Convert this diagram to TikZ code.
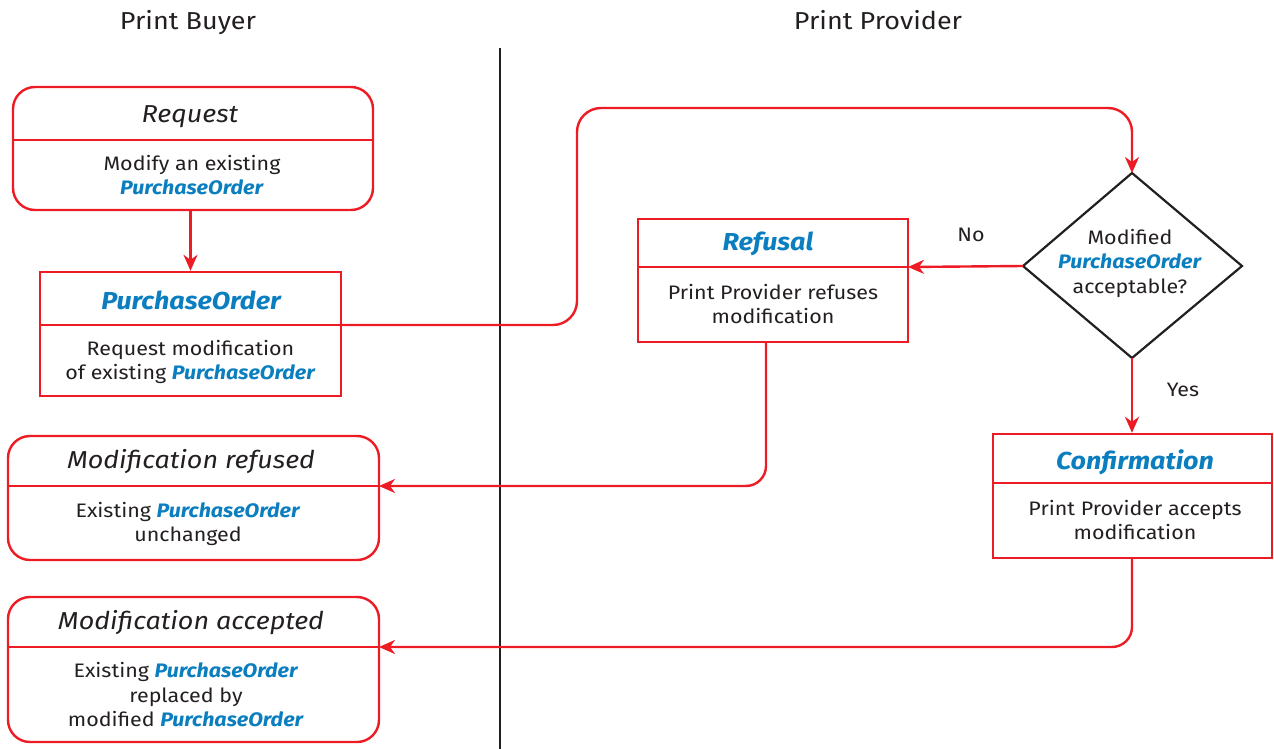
\documentclass[tikz,border=0pt]{standalone}
\usepackage{fontspec}
\setmainfont{Fira Sans}[FakeStretch=1.1]
\usetikzlibrary{arrows.meta}
\definecolor{pred}{HTML}{ED1C24}
\definecolor{pblue}{HTML}{0A7EBE}
\definecolor{pink}{HTML}{231F20}
\newcommand{\po}{\textcolor{pblue}{\textbf{\textit{PurchaseOrder}}}}
\tikzset{
  frame/.style={draw=pred, line width=2.4pt, inner sep=0pt},
  rframe/.style={frame, rounded corners=22pt},
  hdr/.style={font=\fontsize{24.5}{28}\selectfont\itshape, text=pink, inner sep=0pt},
  bhdr/.style={font=\fontsize{24.5}{28}\selectfont\bfseries\itshape, text=pblue, inner sep=0pt},
  body/.style={font=\fontsize{19.5}{24.5}\selectfont, text=pink, align=center, inner sep=0pt},
  lab/.style={font=\fontsize{19.5}{24}\selectfont, text=pink, inner sep=0pt},
  title/.style={font=\fontsize{24.5}{28}\selectfont, text=pink, inner sep=0pt, anchor=base},
  div/.style={draw=pred, line width=2.4pt},
  conn/.style={draw=pred, line width=2.4pt},
  arr/.style={conn, -{Stealth[length=16pt, width=14pt, inset=5pt]}},
}
\begin{document}
\begin{tikzpicture}[x=1pt,y=-1pt]
\useasboundingbox (0,0) rectangle (1274,749);
% titles
\node[title] (tbuyer) at (188,30) {Print Buyer};
\node[title] (tprov) at (878,30) {Print Provider};
% lane divider
\coordinate (lt) at (500,48);
\coordinate (lb) at (500,749);
\draw[pink, line width=2pt] (lt) -- (lb);

% Request box
\node[rframe, minimum width=360pt, minimum height=123pt] (req) at (193,148.5) {};
\coordinate (reqdw) at (13,140); \coordinate (reqde) at (373,140);
\draw[div] (reqdw) -- (reqde);
\node[hdr] (reqh) at (190,117) {Request};
\node[body] (reqb) at (192,175) {Modify an existing\\ \po};

% PurchaseOrder box
\node[frame, minimum width=301pt, minimum height=124pt] (po) at (190.5,334) {};
\coordinate (podw) at (40,325); \coordinate (pode) at (341,325);
\draw[div] (podw) -- (pode);
\node[bhdr] (poh) at (191,300) {PurchaseOrder};
\node[body] (pob) at (190.5,362) {Request modification\\ of existing \po};

% Refusal box
\node[frame, minimum width=270pt, minimum height=123pt] (ref) at (773,280.5) {};
\coordinate (refdw) at (638,267); \coordinate (refde) at (908,267);
\draw[div] (refdw) -- (refde);
\node[bhdr] (refh) at (768,244) {Refusal};
\node[body] (refb) at (773,304) {Print Provider refuses\\ modification};

% Confirmation box
\node[frame, minimum width=279pt, minimum height=124pt] (conf) at (1132.5,496) {};
\coordinate (confdw) at (993,483); \coordinate (confde) at (1272,483);
\draw[div] (confdw) -- (confde);
\node[bhdr] (confh) at (1135,462) {Confirmation};
\node[body] (confb) at (1135,520) {Print Provider accepts\\ modification};

% Modification refused box
\node[rframe, minimum width=371pt, minimum height=124pt] (mr) at (193.5,498) {};
\coordinate (mrdw) at (8,486); \coordinate (mrde) at (379,486);
\draw[div] (mrdw) -- (mrde);
\node[hdr] (mrh) at (191,462) {Modification refused};
\node[body] (mrb) at (188,524) {Existing \po\\ unchanged};

% Modification accepted box
\node[rframe, minimum width=371pt, minimum height=145pt] (ma) at (193.5,669.5) {};
\coordinate (madw) at (8,647); \coordinate (made) at (379,647);
\draw[div] (madw) -- (made);
\node[hdr] (mah) at (191,623) {Modification accepted};
\node[body] (mab) at (186,695) {Existing \po\\ replaced by\\ modified \po};

% Decision diamond
\coordinate (dtop) at (1132,173);
\coordinate (dright) at (1242,266);
\coordinate (dbot) at (1132,358);
\coordinate (dleft) at (1023,266);
\draw[pink, line width=2.2pt, line join=miter] (dtop) -- (dright) -- (dbot) -- (dleft) -- cycle;
\node[body] (dq) at (1130,263) {Modified\\ \po\\ acceptable?};

% connectors
\draw[arr] (req.south -| po.north) -- (po.north);
\coordinate (j1) at (577,108);
\draw[arr, rounded corners=24pt] (pode) -| (j1) -| (dtop);
\draw[arr] (dleft) -- (refde);
\node[lab] (no) at (971,235) {No};
\draw[arr] (dbot) -- (conf.north -| dbot);
\node[lab] (yes) at (1183,390) {Yes};
\coordinate (r1) at (766,342);
\draw[arr, rounded corners=20pt] (r1) |- (mrde);
\coordinate (c1) at (1132,558);
\draw[arr, rounded corners=20pt] (c1) |- (made);
\end{tikzpicture}
\end{document}
